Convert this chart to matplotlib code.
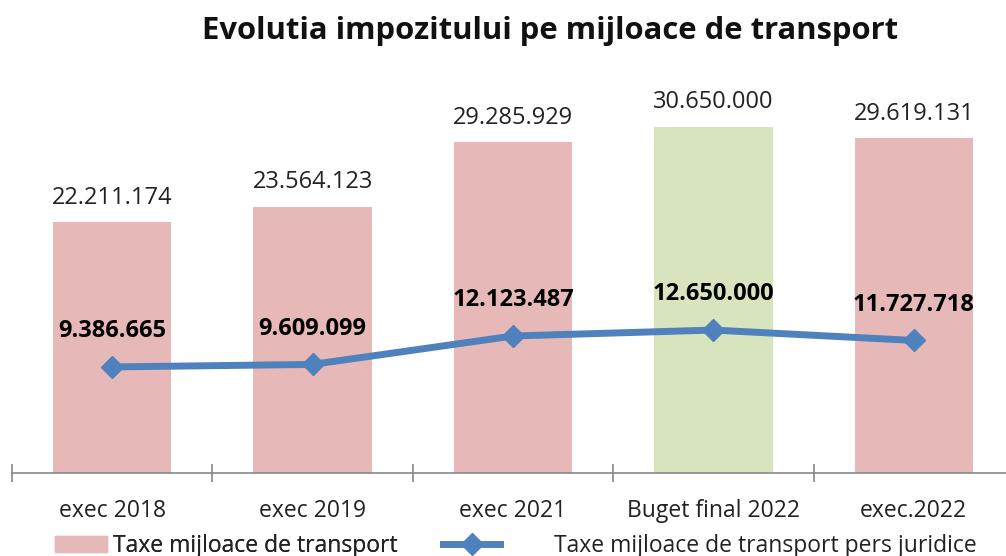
import matplotlib.pyplot as plt
import numpy as np
from matplotlib.patches import Patch
from matplotlib.lines import Line2D

plt.rcParams['font.family'] = ['Open Sans', 'DejaVu Sans']

categories = ["exec 2018", "exec 2019", "exec 2021", "Buget final 2022", "exec.2022"]
taxe_total = [22211174, 23564123, 29285929, 30650000, 29619131]
taxe_juridice = [9386665, 9609099, 12123487, 12650000, 11727718]
bar_colors = ["#E6B8B7", "#E6B8B7", "#E6B8B7", "#D7E4BD", "#E6B8B7"]
blue = "#4F81BD"


def fmt(v):
    return f"{v:,}".replace(",", ".")


fig = plt.figure(figsize=(10.06, 5.56), dpi=100)
ax = fig.add_axes([12 / 1006, 83 / 556, 1002 / 1006, 395.5 / 556])

x = np.arange(len(categories))
ax.bar(x, taxe_total, width=0.59, color=bar_colors, zorder=1)
ax.plot(x, taxe_juridice, color=blue, lw=5, marker='D', markersize=11,
        solid_joinstyle='round', zorder=3)

for xi, v in zip(x, taxe_total):
    ax.annotate(fmt(v), (xi, v), xytext=(0, 9), textcoords='offset points',
                ha='center', va='bottom', fontsize=17, color="#222222")
for xi, v in zip(x, taxe_juridice):
    ax.annotate(fmt(v), (xi, v), xytext=(0, 17), textcoords='offset points',
                ha='center', va='bottom', fontsize=17, fontweight='bold', color="black")

ax.set_xlim(-0.5, 4.5)
ax.set_ylim(0, 35000000)
ax.set_yticks([])
ax.set_xticks(np.arange(-0.5, 5, 1.0))
ax.set_xticklabels([])
ax.set_xticks(x, minor=True)
ax.set_xticklabels(categories, minor=True, fontsize=16.5, color="#222222")
ax.tick_params(axis='x', which='minor', length=0, pad=19)
ax.tick_params(axis='x', which='major', direction='inout', length=13, color="#888888", width=1.2)
for s in ['top', 'right', 'left']:
    ax.spines[s].set_visible(False)
ax.spines['bottom'].set_color("#888888")
ax.spines['bottom'].set_linewidth(1.2)

fig.text(0.547, 0.944, "Evolutia impozitului pe mijloace de transport",
         ha='center', va='center', fontsize=22.3, fontweight='bold', color="#111111")

# two separate legends, Excel spacing differs between the two entries
leg1 = fig.legend([Patch(color="#E6B8B7")], ["Taxe mijloace de transport"],
                  loc='center left', bbox_to_anchor=(55 / 1006, 10 / 556), frameon=False,
                  fontsize=16.5, handlelength=2.27, handleheight=0.65,
                  handletextpad=0.26, borderpad=0, borderaxespad=0, labelcolor="#222222")
fig.legend([Line2D([0], [0], color=blue, lw=5, marker='D', markersize=11)],
           ["Taxe mijloace de transport pers juridice"],
           loc='center left', bbox_to_anchor=(443 / 1006, 10 / 556), frameon=False,
           fontsize=16.5, handlelength=2.5, handletextpad=2.35,
           borderpad=0, borderaxespad=0, labelcolor="#222222")
fig.add_artist(leg1)

fig.savefig("out.png", dpi=100)
